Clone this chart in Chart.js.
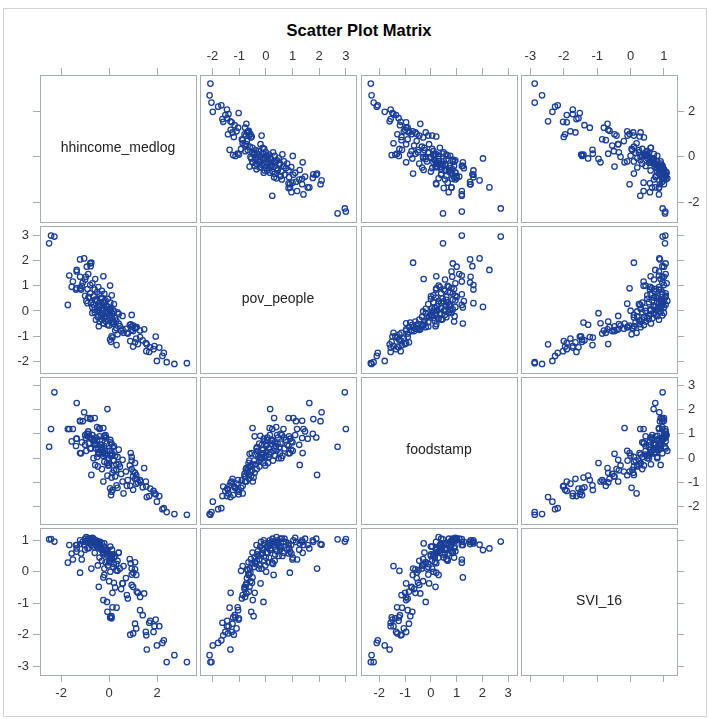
<!DOCTYPE html>
<html>
<head>
<meta charset="utf-8">
<title>Scatter Plot Matrix</title>
<script src="https://cdn.jsdelivr.net/npm/chart.js@4"></script>
<style>
  body { margin: 0; background: #fff; width: 710px; height: 719px; position: relative; overflow: hidden; font-family: "Liberation Sans", Arial, sans-serif; }
  #frame { position: absolute; left: 3px; top: 8px; width: 702px; height: 707px; border: 1px solid #d3d3d3; }
  #title { position: absolute; left: 0; width: 718px; top: 20px; line-height: 20px; text-align: center; font-weight: bold; font-size: 16.5px; color: #000; }
  canvas { position: absolute; }
</style>
</head>
<body>
<div id="frame"></div>
<div id="title">Scatter Plot Matrix</div>
<script>
// variable names, in matrix order
const varNames = ['hhincome_medlog', 'pov_people', 'foodstamp', 'SVI_16'];

// one value per county, same order in every array
const hhincome = [
  -2.50, -2.42, -2.28, 3.24, 2.72, 2.40, 1.99, 2.22, 2.28, 1.67,
  1.55, 2.09, 1.85, 1.71, 1.57, 1.00, 0.88, 0.31, 0.04, 0.08,
  0.10, 0.14, 1.53, 1.13, 1.08, 1.40, 1.29, 1.94, 1.89, 1.20,
  0.90, 0.94, 1.01, 1.08, 1.13, 0.94, 1.00, 1.15, 1.29, 1.46,
  0.74, 0.56, 0.35, -0.43, -0.24, -0.24, 0.10, -0.07, 0.14, 0.86,
  1.08, 0.70, 0.60, 0.30, 0.45, 0.20, 0.50, 0.40, 0.78, 0.25,
  0.00, 0.94, 0.56, -0.47, -0.40, -0.30, -0.21, -0.10, 0.00, 0.12,
  0.20, 0.05, -0.09, 0.30, 0.25, 0.40, -0.55, -0.60, -0.35, -0.15,
  0.18, -0.25, 0.10, -0.05, 0.35, -0.45, -0.70, 0.15, -0.20, 0.05,
  -0.30, -0.07, -0.90, -0.40, -0.50, -1.72, -0.20, -0.30, -0.10, -0.55,
  -0.25, 0.00, -0.65, -0.35, -0.15, 0.10, -0.45, -0.60, -0.75, -0.05,
  0.20, -0.38, -0.85, -0.20, -0.50, 0.05, -0.30, -0.60, -0.12, -0.95,
  -0.70, 0.04, -1.36, -0.40, -0.60, -0.79, -1.38, -1.17, -0.90, -0.79,
  -1.14, -1.56, 0.11, -0.65, -0.50, -0.30, -1.00, -0.45, -1.21, -0.85,
  -0.20, -0.24, -1.66, -1.51, -1.35, -1.21, -0.97, -0.87, -0.58, -1.10,
  -0.70, -1.00, -1.35, -1.04, -0.77, -1.21, -0.74, -0.93, -0.79
];
const povPeople = [
  2.69, 3.00, 2.96, -2.08, -2.11, -2.04, -1.99, -1.79, -1.67, -1.63,
  -1.60, -1.46, -1.52, -1.45, -1.33, -1.42, -1.20, -1.36, -1.14, -1.23,
  -1.01, -1.06, -1.28, -1.10, -1.25, -1.17, -1.04, -1.02, -1.40, -1.32,
  -0.53, -0.62, -0.58, -0.70, -0.66, -0.75, -0.80, -0.64, -0.78, -0.73,
  -0.87, -0.73, -0.93, -0.61, -0.50, -0.49, -0.46, -0.55, -0.42, -0.56,
  -0.65, -0.71, -0.87, -0.68, -0.60, -0.52, -0.80, -0.50, -0.90, -0.77,
  -0.58, -0.16, -0.20, -0.24, -0.42, -0.34, -0.21, -0.30, -0.20, -0.10,
  0.00, 0.01, -0.09, -0.38, -0.28, -0.12, -0.35, -0.05, -0.15, -0.40,
  -0.45, 0.02, -0.25, -0.02, -0.06, -0.18, -0.08, -0.33, -0.26, 0.04,
  -0.10, 0.16, 0.31, 0.14, 0.39, 0.24, 0.29, 0.10, 0.20, 0.45,
  0.35, 0.08, 0.25, 0.50, 0.42, 0.12, 0.18, 0.05, 0.32, 0.48,
  0.27, 0.22, 0.55, 0.38, 0.10, 0.33, 0.53, 0.44, 0.06, 0.40,
  0.15, 1.01, 0.91, 0.66, 0.85, 1.03, 0.85, 0.85, 0.87, 0.70,
  1.00, 0.96, 0.62, 0.58, 0.75, 0.80, 0.60, 0.95, 0.90, 0.55,
  0.68, 1.38, 1.41, 1.17, 1.57, 1.36, 1.36, 1.47, 1.27, 1.13,
  1.10, 1.25, 1.63, 2.09, 1.78, 2.05, 1.92, 1.76, 1.89
];
const foodstamp = [
  0.47, 1.20, 2.71, -2.33, -2.30, -2.22, -1.79, -2.10, -2.06, -1.56,
  -1.17, -1.56, -1.35, -1.25, -1.60, -1.30, -1.14, -1.12, -1.24, -1.52,
  -1.38, -1.31, -0.96, -1.05, -0.85, -1.20, -0.90, -1.49, -1.45, -1.00,
  0.21, -0.10, -0.55, -0.60, -0.70, -0.45, -0.75, -0.85, -0.96, -0.41,
  -1.14, -0.96, -1.22, 0.18, 1.24, -0.96, -0.80, -0.72, -0.60, -0.30,
  -0.20, -0.55, -1.45, -0.48, -0.35, -0.50, -0.65, -0.25, -0.90, -0.75,
  -0.30, 0.05, -0.07, -0.34, 0.90, -0.45, 0.92, 0.30, 0.00, 0.20,
  0.50, 0.10, -0.20, -0.25, 0.10, 0.35, 0.40, 0.70, 0.55, 0.15,
  -0.10, 0.25, 0.60, -0.30, 0.05, 0.20, 0.80, 0.45, -0.15, 0.75,
  0.35, 2.02, 1.65, 1.24, 1.28, 1.20, 0.30, 0.40, 0.60, 0.85,
  0.10, -0.20, 0.70, 0.45, 0.95, 0.15, 0.25, 0.55, 0.40, 0.00,
  -0.10, 0.75, 1.00, 0.50, 0.05, 0.65, 0.20, 0.60, 0.85, 0.30,
  0.95, 0.30, 0.80, 1.20, 1.65, 1.65, 0.50, 0.20, 0.90, 0.40,
  0.65, 0.69, 0.10, 0.00, 0.75, 0.55, 0.95, 0.35, 0.21, 0.60,
  0.85, 0.21, 1.20, 1.20, 0.80, 1.54, 0.83, 1.10, -0.28, 1.52,
  0.95, 0.55, 2.27, 1.89, 1.61, 1.52, -0.69, 1.00, 0.85
];
const svi16 = [
  1.03, 1.04, 0.96, -2.87, -2.65, -2.87, -2.34, -2.26, -2.18, -1.62,
  -2.02, -1.73, -1.91, -1.56, -2.47, -1.96, -2.00, -1.14, -1.45, -1.45,
  -1.48, -1.13, -1.91, -1.80, -1.65, -1.38, -1.22, -1.52, -1.73, -0.67,
  0.27, -0.09, -0.03, 0.08, -0.10, -0.42, -0.48, -0.63, -0.80, -0.69,
  -0.74, -0.37, 0.03, -0.48, -0.18, -0.90, -1.41, -1.27, -0.67, 0.40,
  0.30, -0.20, 0.18, 0.05, 0.10, -0.35, -0.55, 0.61, -0.85, -0.50,
  -0.30, 0.10, -0.37, 0.20, 0.45, 0.35, 0.80, 0.65, 0.55, 0.70,
  0.45, 0.00, -0.96, 0.25, 0.50, 0.60, 0.85, 0.90, 0.75, 0.30,
  0.15, 0.60, 0.40, 0.20, 0.35, 0.95, 1.00, 0.55, 0.10, 0.80,
  0.70, 0.69, 0.95, 0.85, 0.95, 0.29, -0.10, 0.90, 0.70, 1.00,
  0.55, 0.30, 1.05, 0.80, 0.65, 0.45, 0.75, 0.60, 0.85, 0.50,
  0.25, 0.95, 1.05, 0.90, 0.80, 0.35, 0.70, 0.90, 0.60, 1.10,
  1.00, 0.45, 0.64, 0.95, 0.90, 1.00, 0.85, 0.58, 0.75, 1.05,
  0.39, 0.58, 0.50, 0.80, 0.95, 0.70, 1.05, 0.85, -0.03, 0.75,
  0.60, 0.60, 0.85, 0.39, 0.85, 1.00, 0.95, 1.05, 0.90, 0.95,
  1.08, 0.70, 0.74, 0.86, 0.95, 0.88, 0.10, 1.00, 1.05
];

// axis ranges and tick labels per variable
const axisMin = [-2.88, -2.47, -2.71, -3.28];
const axisMax = [3.62, 3.38, 3.34, 1.39];
const tickValues = [
  [-2, 0, 2],
  [-2, -1, 0, 1, 2, 3],
  [-2, -1, 0, 1, 2, 3],
  [-3, -2, -1, 0, 1]
];

const series = [hhincome, povPeople, foodstamp, svi16];

// cell layout
const colLeft = [40, 200, 361, 521];
const rowTop = [75, 226, 377, 528];
const cellW = 156, cellH = 147, M = 40;
const lineGray = '#a7acb1';
const markerBlue = '#1b3f97';

const diagLabel = {
    id: 'diagLabel',
    afterDraw(chart, args, opts) {
        if (!opts.text) return;
        const { ctx, chartArea: a } = chart;
        ctx.save();
        ctx.font = '14px "Liberation Sans", Arial, sans-serif';
        ctx.fillStyle = '#222';
        ctx.textAlign = 'center';
        ctx.textBaseline = 'middle';
        ctx.fillText(opts.text, (a.left + a.right) / 2, (a.top + a.bottom) / 2);
        ctx.restore();
    }
};

function axis(position, v, ticksOn, labelsOn) {
    return {
        type: 'linear',
        position: position,
        min: axisMin[v],
        max: axisMax[v],
        afterBuildTicks: s => { s.ticks = tickValues[v].map(t => ({ value: t })); },
        afterFit: s => {
            if (position === 'left' || position === 'right') s.width = M;
            else s.height = M;
        },
        grid: { display: ticksOn, drawOnChartArea: false, drawTicks: true, tickLength: 7, tickWidth: 1, tickColor: lineGray },
        border: { display: true, color: lineGray, width: 1 },
        ticks: {
            display: labelsOn,
            padding: 4,
            color: '#333',
            font: { family: '"Liberation Sans", Arial, sans-serif', size: 13 },
            callback: value => String(value)
        }
    };
}

for (let r = 0; r < 4; r++) {
    for (let c = 0; c < 4; c++) {
        const canvas = document.createElement('canvas');
        canvas.width = cellW + 2 * M;
        canvas.height = cellH + 2 * M;
        canvas.style.left = (colLeft[c] - M) + 'px';
        canvas.style.top = (rowTop[r] - M) + 'px';
        document.body.appendChild(canvas);

        const points = r === c ? [] : series[c].map((x, i) => ({ x: x, y: series[r][i] }));

        new Chart(canvas.getContext('2d'), {
            type: 'scatter',
            data: {
                datasets: [{
                    data: points,
                    xAxisID: 'x',
                    yAxisID: 'y',
                    pointStyle: 'circle',
                    pointRadius: 2.7,
                    pointBorderWidth: 1.3,
                    pointBackgroundColor: 'rgba(0,0,0,0)',
                    pointBorderColor: markerBlue
                }]
            },
            options: {
                responsive: false,
                animation: false,
                devicePixelRatio: 1,
                layout: { padding: 0 },
                events: [],
                plugins: {
                    legend: { display: false },
                    tooltip: { enabled: false },
                    diagLabel: { text: r === c ? varNames[r] : '' }
                },
                scales: {
                    x: axis('bottom', c, r === 3, r === 3 && c % 2 === 0),
                    x2: axis('top', c, r === 0, r === 0 && c % 2 === 1),
                    y: axis('left', r, c === 0, c === 0 && r % 2 === 1),
                    y2: axis('right', r, c === 3, c === 3 && r % 2 === 0)
                }
            },
            plugins: [diagLabel]
        });
    }
}
</script>
</body>
</html>
